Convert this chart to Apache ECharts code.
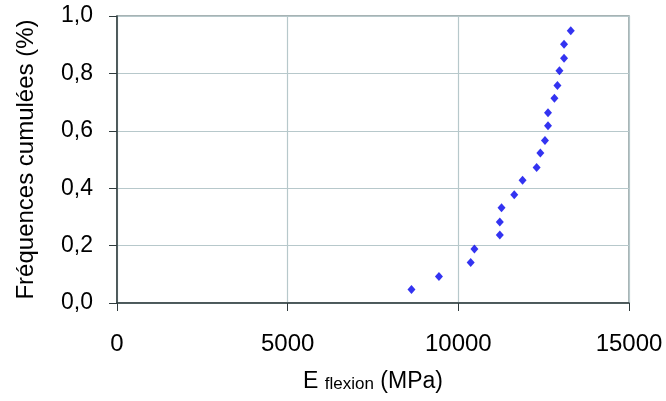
<!DOCTYPE html>
<html><head><meta charset="utf-8">
<script src="https://cdn.jsdelivr.net/npm/echarts@6/dist/echarts.min.js"></script>
<style>html,body{margin:0;padding:0;background:#fff}#c{width:666px;height:401px}</style>
</head><body><div id="c"></div>
<script>
const eFlexion = [8627, 9432, 10362, 10471, 11215, 11215, 11265, 11638, 11882, 12294, 12403, 12538, 12627, 12627, 12815, 12903, 12962, 13097, 13097, 13294];
const freqCumulees = [0.047, 0.092, 0.141, 0.188, 0.237, 0.282, 0.332, 0.377, 0.428, 0.472, 0.523, 0.566, 0.618, 0.663, 0.713, 0.758, 0.809, 0.853, 0.902, 0.949];
const xTicks = [0, 5000, 10000, 15000];
const yTicks = [0, 0.2, 0.4, 0.6, 0.8, 1.0];

const chart = echarts.init(document.getElementById('c'));
const font = 'Liberation Sans, Arial, sans-serif';
chart.setOption({
  animation: false,
  grid: {left: 117, right: 37, top: 16, bottom: 98, show: true, borderColor: '#8a9a9c', borderWidth: 1.5, backgroundColor: '#fff'},
  xAxis: {
    type: 'value', min: 0, max: 15000, interval: 5000,
    name: '{big|E }{small|flexion}{big| (MPa)}', nameLocation: 'middle', nameGap: 67,
    nameTextStyle: {rich: {big: {fontSize: 23, fontFamily: font, color: '#000'}, small: {fontSize: 17, fontFamily: font, color: '#000', padding: [5,0,0,0]}}},
    axisLine: {show: true, onZero: false, lineStyle: {color: '#2f3b3d', width: 1.5}},
    axisTick: {show: true, length: 8, lineStyle: {color: '#2f3b3d'}},
    axisLabel: {fontSize: 24, fontFamily: font, color: '#000', margin: 29,
      formatter: v => xTicks.includes(v) ? String(v) : ''},
    splitLine: {show: true, lineStyle: {color: '#b7c8cb', width: 1.2}}
  },
  yAxis: {
    type: 'value', min: 0, max: 1, interval: 0.2,
    name: 'Fréquences cumulées (%)', nameLocation: 'middle', nameGap: 79, nameRotate: 90,
    nameTextStyle: {fontSize: 24, fontFamily: font, color: '#000'},
    axisLine: {show: true, onZero: false, lineStyle: {color: '#2f3b3d', width: 1.5}},
    axisTick: {show: true, length: 8, lineStyle: {color: '#2f3b3d'}},
    axisLabel: {fontSize: 23, fontFamily: font, color: '#000', margin: 24,
      formatter: v => yTicks.some(t => Math.abs(t - v) < 1e-9) ? v.toFixed(1).replace('.', ',') : ''},
    splitLine: {show: true, lineStyle: {color: '#b7c8cb', width: 1.2}}
  },
  series: [{
    type: 'scatter',
    symbol: 'diamond', symbolSize: [8, 9],
    itemStyle: {color: '#0000ee'},
    data: eFlexion.map((x, i) => [x, freqCumulees[i]])
  }]
});
</script>
</body></html>
